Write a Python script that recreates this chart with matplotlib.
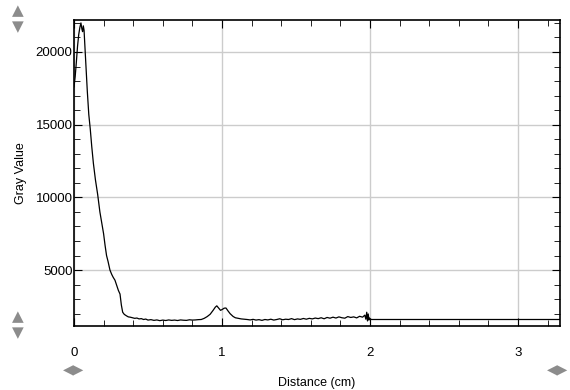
import matplotlib
matplotlib.use("Agg")
import matplotlib.pyplot as plt
from matplotlib.ticker import MultipleLocator

plt.rcParams["font.family"] = ["Liberation Sans", "DejaVu Sans"]

# profile (distance in cm, gray value)
distance = [
    0.000, 0.008, 0.016, 0.024, 0.032, 0.040, 0.047, 0.053, 0.058, 0.063,
    0.068, 0.074, 0.080, 0.090, 0.100, 0.110, 0.120, 0.131, 0.145, 0.160,
    0.175, 0.190, 0.200, 0.210, 0.220, 0.230, 0.243, 0.255, 0.265, 0.277,
    0.290, 0.300, 0.311, 0.320, 0.329, 0.340, 0.355, 0.367, 0.380, 0.395,
    0.410, 0.425, 0.440, 0.455, 0.470, 0.485, 0.500, 0.520, 0.540, 0.560,
    0.580, 0.600, 0.620, 0.640, 0.660, 0.680, 0.700, 0.720, 0.740, 0.760,
    0.780, 0.800, 0.820, 0.840, 0.860, 0.880, 0.900, 0.920, 0.940, 0.955,
    0.965, 0.975, 0.990, 1.000, 1.015, 1.027, 1.040, 1.055, 1.075, 1.090,
    1.110, 1.130, 1.150, 1.170, 1.190, 1.210, 1.230, 1.250, 1.270, 1.290,
    1.310, 1.330, 1.350, 1.370, 1.390, 1.410, 1.430, 1.450, 1.470, 1.490,
    1.510, 1.530, 1.550, 1.570, 1.590, 1.610, 1.630, 1.650, 1.670, 1.690,
    1.710, 1.730, 1.750, 1.770, 1.790, 1.810, 1.830, 1.850, 1.870, 1.890,
    1.910, 1.930, 1.950, 1.965, 1.972, 1.978, 1.983, 1.988, 1.993, 1.997,
    2.000, 2.010, 3.300,
]
gray_value = [
    17600, 18300, 19300, 20400, 21200, 21700, 22000, 21600, 21400, 21800,
    21500, 20300, 19200, 17300, 15700, 14700, 13500, 12350, 11200, 10200,
    9000, 8100, 7500, 6700, 6000, 5600, 5000, 4700, 4500, 4300,
    3900, 3600, 3350, 2600, 2100, 1950, 1850, 1780, 1760, 1720,
    1680, 1700, 1640, 1660, 1600, 1630, 1560, 1590, 1540, 1570,
    1520, 1560, 1530, 1570, 1540, 1560, 1530, 1570, 1550, 1540,
    1580, 1560, 1570, 1590, 1600, 1680, 1800, 1960, 2230, 2450,
    2540, 2420, 2230, 2280, 2380, 2390, 2200, 2000, 1810, 1720,
    1680, 1640, 1620, 1600, 1570, 1610, 1560, 1590, 1540, 1600,
    1570, 1620, 1560, 1600, 1650, 1580, 1620, 1600, 1660, 1590,
    1640, 1610, 1670, 1620, 1680, 1640, 1700, 1660, 1720, 1650,
    1740, 1690, 1760, 1700, 1780, 1720, 1690, 1800, 1740, 1780,
    1710, 1820, 1760, 1900, 1620, 2100, 1500, 1980, 1560, 1700,
    1640, 1600, 1600,
]

x_major = [0, 1, 2, 3]
y_major = [5000, 10000, 15000, 20000]

fig = plt.figure(figsize=(5.7, 3.9), dpi=100)
ax = fig.add_axes([0.1298, 0.164, 0.8527, 0.7847])

ax.plot(distance, gray_value, color="black", linewidth=0.9)

ax.set_xlim(0, 3.284)
ax.set_ylim(1150, 22200)
ax.set_xticks(x_major)
ax.set_yticks(y_major)
ax.xaxis.set_minor_locator(MultipleLocator(0.2))
ax.yaxis.set_minor_locator(MultipleLocator(1000))
ax.grid(True, which="major", color="#cccccc", linewidth=1.0)
ax.set_axisbelow(True)

ax.tick_params(which="both", direction="in", top=True, right=True,
               color="black", labelsize=9.5)
ax.tick_params(which="major", length=6)
ax.tick_params(which="minor", length=4)
ax.tick_params(axis="x", which="major", pad=15)
ax.tick_params(axis="y", which="major", pad=1)
for sp in ax.spines.values():
    sp.set_linewidth(1.2)

ax.set_xlabel("Distance (cm)", fontsize=9, labelpad=13)
ax.set_ylabel("Gray Value", fontsize=9, labelpad=6)

# viewer arrows around the plot
arrow_color = "#8c8c8c"
for ypx, sym in [(11, "▲"), (27, "▼"), (317, "▲"), (333, "▼")]:
    fig.text(18 / 570, 1 - ypx / 390, sym, color=arrow_color, fontsize=11,
             ha="center", va="center", family="DejaVu Sans")
for xpx in [74, 558]:
    fig.text(xpx / 570, 1 - 369 / 390, "◀▶", color=arrow_color, fontsize=10,
             ha="center", va="center", family="DejaVu Sans")

fig.savefig("out.png", dpi=100)
